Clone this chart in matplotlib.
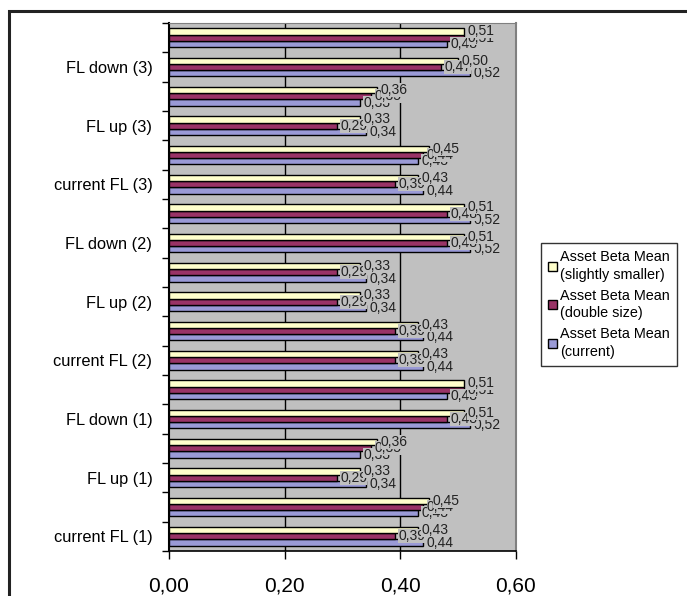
import matplotlib.pyplot as plt
from matplotlib.patches import Patch, Rectangle
import numpy as np

plt.rcParams['font.family'] = ['Liberation Sans', 'DejaVu Sans']

# bottom -> top, every second category has no visible label
categories = ['current FL (1)', '', 'FL up (1)', '', 'FL down (1)', '',
              'current FL (2)', '', 'FL up (2)', '', 'FL down (2)', '',
              'current FL (3)', '', 'FL up (3)', '', 'FL down (3)', '']
current = [0.44, 0.43, 0.34, 0.33, 0.52, 0.48, 0.44, 0.44, 0.34,
           0.34, 0.52, 0.52, 0.44, 0.43, 0.34, 0.33, 0.52, 0.48]
double = [0.39, 0.44, 0.29, 0.35, 0.48, 0.51, 0.39, 0.39, 0.29,
          0.29, 0.48, 0.48, 0.39, 0.44, 0.29, 0.35, 0.47, 0.51]
smaller = [0.43, 0.45, 0.33, 0.36, 0.51, 0.51, 0.43, 0.43, 0.33,
           0.33, 0.51, 0.51, 0.43, 0.45, 0.33, 0.36, 0.50, 0.51]
xticks = [0.0, 0.2, 0.4, 0.6]

names = ['Asset Beta Mean\n(current)', 'Asset Beta Mean\n(double size)',
         'Asset Beta Mean\n(slightly smaller)']
colors = ['#9a9ad6', '#993366', '#ffffcc']

fig = plt.figure(figsize=(6.87, 5.96), dpi=100)
ax = fig.add_axes([169/687, 1-551/596, (516-169)/687, (551-23)/596])
ax.set_facecolor('#c0c0c0')

y = np.arange(len(categories))
h = 0.215
series = [current, double, smaller]
for k, (vals, c) in enumerate(zip(series, colors)):
    ax.barh(y + (k-1)*h, vals, height=h, color=c, edgecolor='black',
            linewidth=1.0, zorder=3)

for k, vals in enumerate(series):
    for i, v in enumerate(vals):
        ax.text(v + 0.006, y[i] + (k-1)*h, f"{v:.2f}".replace('.', ','),
                fontsize=10, va='center', ha='left', color='#222222',
                zorder=4 + k,
                bbox=dict(facecolor='#c0c0c0', edgecolor='none', pad=0))

ax.set_xlim(0, 0.6)
ax.set_ylim(-0.5, len(categories) - 0.5)
ax.set_xticks(xticks)
ax.set_xticklabels([f"{t:.2f}".replace('.', ',') for t in xticks], fontsize=15)
ax.tick_params(axis='x', length=6, width=1, direction='out', pad=12)
ax.set_yticks(y)
ax.set_yticklabels(categories, fontsize=11.8)
ax.tick_params(axis='y', length=0, pad=12)
ax.set_yticks(np.arange(-0.5, len(categories)), minor=True)
ax.tick_params(axis='y', which='minor', length=5, width=1, direction='out')

for gx in xticks[1:]:
    ax.axvline(gx, color='black', linewidth=1, zorder=1)

ax.spines['left'].set_linewidth(1.5)
ax.spines['bottom'].set_linewidth(1.2)
ax.spines['top'].set_color('#808080')
ax.spines['right'].set_color('#808080')
ax.spines['right'].set_linewidth(1.5)

handles = [Patch(facecolor=c, edgecolor='black', linewidth=1) for c in colors]
leg = fig.legend(handles[::-1], names[::-1], loc='upper left',
                 bbox_to_anchor=(541/687, 1-243/596), fontsize=10.4,
                 frameon=True, fancybox=False, edgecolor='black',
                 handlelength=0.6, handleheight=0.6, handletextpad=0.2,
                 labelspacing=0.5, borderpad=0.5, borderaxespad=0)
leg.get_frame().set_linewidth(1)
for t in leg.get_texts():
    t.set_linespacing(1.3)

# outer chart-area frame (partly cut off in the original)
fig.add_artist(Rectangle((9/687, -0.1), 1.2, 1 + 0.1 - 11/596,
                         transform=fig.transFigure, fill=False,
                         edgecolor='#222222', linewidth=2.2))

fig.savefig('out.png', dpi=100)
